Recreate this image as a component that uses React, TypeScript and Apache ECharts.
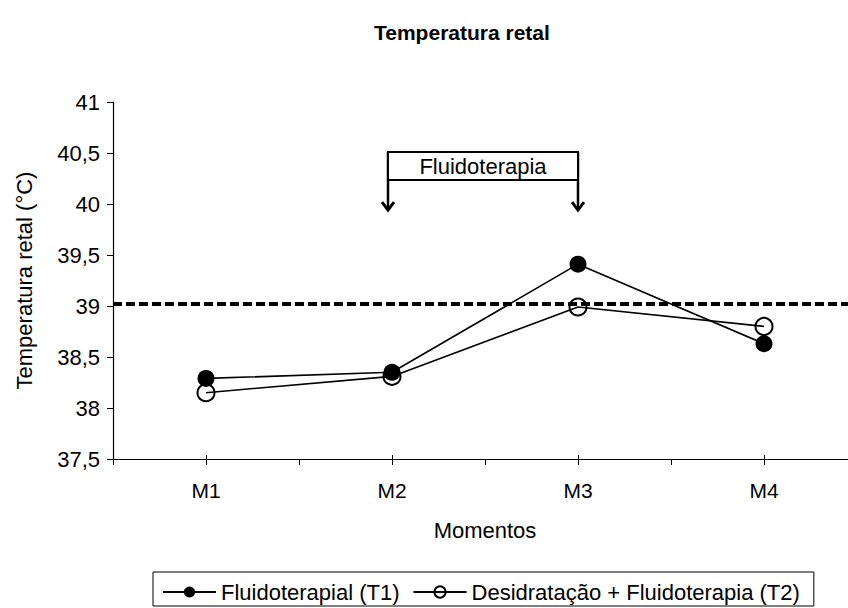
import React, { useEffect, useRef } from "react";
import * as echarts from "echarts";

const categories = ["M1", "M2", "M3", "M4"];
const t1Values = [38.29, 38.35, 39.41, 38.63];
const t2Values = [38.15, 38.31, 38.99, 38.8];
const referenceLine = 39.02;
const yMin = 37.5;
const yMax = 41;
const yInterval = 0.5;
const seriesNames = ["Fluidoterapial (T1)", "Desidratação + Fluidoterapia (T2)"];
const annotationText = "Fluidoterapia";
const annotationFrom = "M2";
const annotationTo = "M3";
const boxTopValue = 40.51;
const boxBottomValue = 40.235;
const arrowTipValue = 39.94;

const FONT = "'Liberation Sans', Arial, sans-serif";
const FS = 22;

export default function App() {
  const ref = useRef<HTMLDivElement>(null);
  useEffect(() => {
    if (!ref.current) return;
    const chart = echarts.init(ref.current, undefined, { renderer: "svg" });
    const hiddenX = {
      type: "category",
      data: categories,
      gridIndex: 0,
      position: "bottom",
      axisLine: { show: false },
      axisLabel: { show: false },
      splitLine: { show: false },
    };
    chart.setOption({
      animation: false,
      textStyle: { fontFamily: FONT, color: "#000" },
      title: {
        text: "Temperatura retal",
        left: 369,
        top: 17,
        textStyle: { fontFamily: FONT, fontSize: 21, fontWeight: "bold", color: "#000" },
      },
      grid: { left: 113, top: 102, width: 744, height: 357, containLabel: false },
      legend: {
        left: 153,
        top: 572,
        orient: "horizontal",
        padding: [9, 14, 3, 9],
        itemGap: 13,
        itemWidth: 53,
        itemHeight: 14,
        borderColor: "#000",
        borderWidth: 1,
        textStyle: { fontFamily: FONT, fontSize: FS, color: "#000" },
        data: seriesNames,
      },
      xAxis: [
        {
          type: "category",
          data: categories,
          name: "Momentos",
          nameLocation: "middle",
          nameGap: 60,
          nameTextStyle: { fontFamily: FONT, fontSize: FS, color: "#000" },
          axisLine: { lineStyle: { color: "#000", width: 1.2 } },
          axisTick: { show: true, length: 6, lineStyle: { color: "#000" } },
          axisLabel: { margin: 21, fontFamily: FONT, fontSize: 21, color: "#000" },
          splitLine: { show: false },
        },
        { ...hiddenX, axisTick: { show: true, alignWithLabel: true, inside: true, length: 4, lineStyle: { color: "#000" } } },
        { ...hiddenX, axisTick: { show: true, alignWithLabel: true, length: 6, lineStyle: { color: "#000" } } },
      ],
      yAxis: {
        type: "value",
        min: yMin,
        max: yMax,
        interval: yInterval,
        name: "Temperatura retal (°C)",
        nameLocation: "middle",
        nameGap: 78,
        nameTextStyle: { fontFamily: FONT, fontSize: FS, color: "#000" },
        axisLine: { show: true, lineStyle: { color: "#000", width: 1.2 } },
        axisTick: { show: true, length: 6, lineStyle: { color: "#000" } },
        axisLabel: {
          margin: 13,
          fontFamily: FONT,
          fontSize: FS,
          color: "#000",
          formatter: (v: number) => String(v).replace(".", ","),
        },
        splitLine: { show: false },
      },
      series: [
        {
          name: seriesNames[0],
          type: "line",
          data: t1Values,
          z: 4,
          symbol: "circle",
          symbolSize: 17,
          lineStyle: { color: "#000", width: 1.6 },
          itemStyle: { color: "#000" },
          markLine: {
            silent: true,
            symbol: "none",
            label: { show: false },
            lineStyle: { color: "#000", width: 4, type: [9, 4] },
            data: [{ yAxis: referenceLine }],
          },
        },
        {
          name: seriesNames[1],
          type: "line",
          data: t2Values,
          z: 3,
          symbol: "circle",
          symbolSize: 17,
          lineStyle: { color: "#000", width: 1.6 },
          itemStyle: { color: "transparent", borderColor: "#000", borderWidth: 2 },
        },
      ],
    });

    const pA = chart.convertToPixel({ xAxisIndex: 0, yAxisIndex: 0 }, [annotationFrom, boxTopValue]) as number[];
    const pB = chart.convertToPixel({ xAxisIndex: 0, yAxisIndex: 0 }, [annotationTo, boxBottomValue]) as number[];
    const pTip = chart.convertToPixel({ xAxisIndex: 0, yAxisIndex: 0 }, [annotationTo, arrowTipValue]) as number[];
    const xl = pA[0] - 4;
    const xr = pB[0];
    const yt = pA[1];
    const yb = pB[1];
    const ytip = pTip[1];
    const arrow = (x: number) => [
      { type: "line", shape: { x1: x, y1: yt, x2: x, y2: ytip - 1 }, style: { stroke: "#000", lineWidth: 2.5 } },
      {
        type: "polyline",
        shape: { points: [[x - 6, ytip - 8], [x, ytip], [x + 6, ytip - 8]] },
        style: { stroke: "#000", lineWidth: 3, fill: "none" },
      },
    ];
    chart.setOption({
      graphic: [
        ...arrow(xl),
        ...arrow(xr),
        {
          type: "rect",
          shape: { x: xl, y: yt, width: xr - xl, height: yb - yt },
          style: { fill: "#fff", stroke: "#000", lineWidth: 2 },
          z: 10,
        },
        {
          type: "text",
          x: (xl + xr) / 2,
          y: (yt + yb) / 2,
          style: {
            text: annotationText,
            fontFamily: FONT,
            fontSize: FS,
            fill: "#000",
            align: "center",
            verticalAlign: "middle",
          },
          z: 11,
        },
      ],
    });
    return () => chart.dispose();
  }, []);
  return (
    <div style={{ position: "absolute", left: 0, top: 0, width: 848, height: 608, overflow: "hidden" }}>
      <div ref={ref} style={{ width: 866, height: 608 }} />
    </div>
  );
}
